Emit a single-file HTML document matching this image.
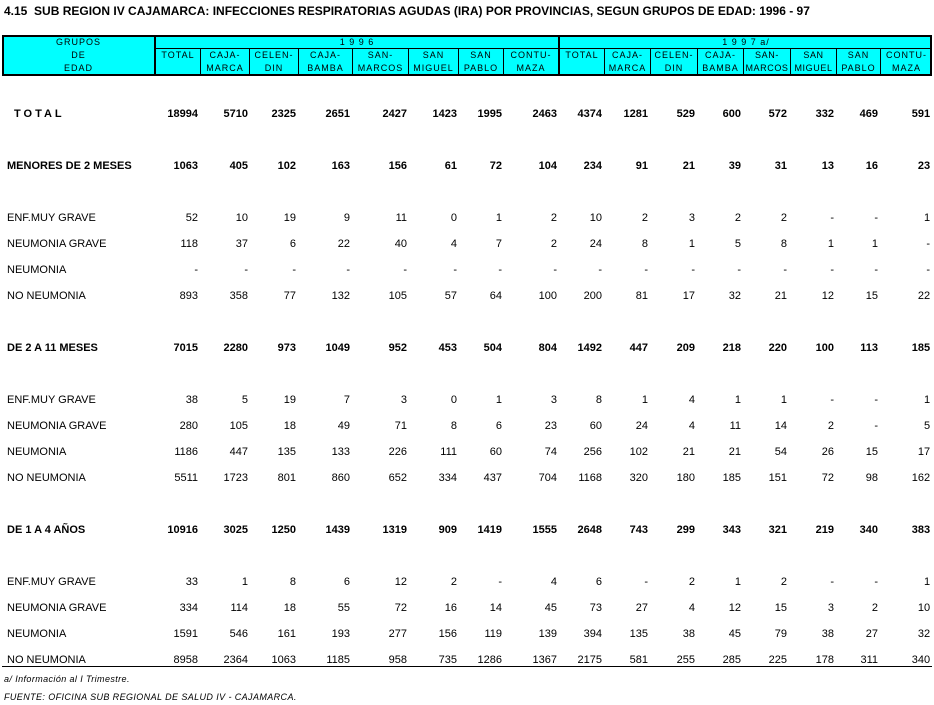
<!DOCTYPE html>
<html><head><meta charset="utf-8"><style>
body{margin:0;width:934px;height:705px;background:#fff;position:relative;font-family:"Liberation Sans",Arial,sans-serif;overflow:hidden}
.t{position:absolute;left:4px;top:4px;font-size:12px;font-weight:bold;white-space:nowrap}
#hb{position:absolute;left:2px;top:35px;width:926px;height:37px;background:#00ffff;border:2px solid #000}
.v{position:absolute;top:48px;height:26px;width:1px;background:#000}
.hl{position:absolute;font-size:9px;letter-spacing:1px;text-align:center;line-height:13px;white-space:nowrap}
table{border-collapse:collapse;table-layout:fixed;position:absolute;left:2px}
#d{top:75px;width:930px}
#d td{font-size:11px;height:26px;padding:0 2px 0 0;text-align:right;white-space:nowrap;line-height:26px}
#d td:first-child{text-align:left;padding-left:5px}
#d tr.b td{font-weight:bold}
.f{position:absolute;left:4px;font-size:9px;font-style:italic;letter-spacing:.4px}
</style></head><body>
<div class="t">4.15&nbsp; SUB REGION IV CAJAMARCA: INFECCIONES RESPIRATORIAS AGUDAS (IRA) POR PROVINCIAS, SEGUN GRUPOS DE EDAD: 1996 - 97</div>
<div id="hb"></div>
<div style="position:absolute;left:154px;top:36px;width:2px;height:38px;background:#000"></div>
<div style="position:absolute;left:558px;top:36px;width:2px;height:38px;background:#000"></div>
<div style="position:absolute;left:155px;top:48px;width:777px;height:1px;background:#000"></div>
<div class="v" style="left:200px"></div><div class="v" style="left:249px"></div><div class="v" style="left:298px"></div><div class="v" style="left:352px"></div><div class="v" style="left:408px"></div><div class="v" style="left:458px"></div><div class="v" style="left:503px"></div>
<div class="v" style="left:604px"></div><div class="v" style="left:650px"></div><div class="v" style="left:697px"></div><div class="v" style="left:743px"></div><div class="v" style="left:790px"></div><div class="v" style="left:836px"></div><div class="v" style="left:880px"></div>
<div class="hl" style="left:2px;width:153px;top:36px">GRUPOS<br>DE<br>EDAD</div>
<div class="hl" style="left:156px;width:402px;top:36px">1 9 9 6</div>
<div class="hl" style="left:560px;width:372px;top:36px">1 9 9 7 a/</div>
<div class="hl" style="left:156px;width:44px;top:49px">TOTAL</div>
<div class="hl" style="left:201px;width:48px;top:49px">CAJA-<br>MARCA</div>
<div class="hl" style="left:250px;width:48px;top:49px">CELEN-<br>DIN</div>
<div class="hl" style="left:299px;width:53px;top:49px">CAJA-<br>BAMBA</div>
<div class="hl" style="left:353px;width:55px;top:49px">SAN-<br>MARCOS</div>
<div class="hl" style="left:409px;width:49px;top:49px">SAN<br>MIGUEL</div>
<div class="hl" style="left:459px;width:44px;top:49px">SAN<br>PABLO</div>
<div class="hl" style="left:504px;width:54px;top:49px">CONTU-<br>MAZA</div>
<div class="hl" style="left:560px;width:44px;top:49px">TOTAL</div>
<div class="hl" style="left:605px;width:45px;top:49px">CAJA-<br>MARCA</div>
<div class="hl" style="left:651px;width:46px;top:49px">CELEN-<br>DIN</div>
<div class="hl" style="left:698px;width:45px;top:49px">CAJA-<br>BAMBA</div>
<div class="hl" style="left:744px;width:46px;top:49px;letter-spacing:.6px">SAN-<br>MARCOS</div>
<div class="hl" style="left:791px;width:45px;top:49px;letter-spacing:.6px">SAN<br>MIGUEL</div>
<div class="hl" style="left:837px;width:43px;top:49px">SAN<br>PABLO</div>
<div class="hl" style="left:881px;width:51px;top:49px">CONTU-<br>MAZA</div>
<table id="d">
<colgroup><col style="width:153px"><col style="width:45px"><col style="width:50px"><col style="width:48px"><col style="width:54px"><col style="width:57px"><col style="width:50px"><col style="width:45px"><col style="width:55px"><col style="width:45px"><col style="width:46px"><col style="width:47px"><col style="width:46px"><col style="width:46px"><col style="width:47px"><col style="width:44px"><col style="width:52px"></colgroup>
<tr><td colspan="17"></td></tr>
<tr class="b"><td style="padding-left:12px;letter-spacing:3px">TOTAL</td><td>18994</td><td>5710</td><td>2325</td><td>2651</td><td>2427</td><td>1423</td><td>1995</td><td>2463</td><td>4374</td><td>1281</td><td>529</td><td>600</td><td>572</td><td>332</td><td>469</td><td>591</td></tr>
<tr><td colspan="17"></td></tr>
<tr class="b"><td>MENORES DE 2 MESES</td><td>1063</td><td>405</td><td>102</td><td>163</td><td>156</td><td>61</td><td>72</td><td>104</td><td>234</td><td>91</td><td>21</td><td>39</td><td>31</td><td>13</td><td>16</td><td>23</td></tr>
<tr><td colspan="17"></td></tr>
<tr><td>ENF.MUY GRAVE</td><td>52</td><td>10</td><td>19</td><td>9</td><td>11</td><td>0</td><td>1</td><td>2</td><td>10</td><td>2</td><td>3</td><td>2</td><td>2</td><td>-</td><td>-</td><td>1</td></tr>
<tr><td>NEUMONIA GRAVE</td><td>118</td><td>37</td><td>6</td><td>22</td><td>40</td><td>4</td><td>7</td><td>2</td><td>24</td><td>8</td><td>1</td><td>5</td><td>8</td><td>1</td><td>1</td><td>-</td></tr>
<tr><td>NEUMONIA</td><td>-</td><td>-</td><td>-</td><td>-</td><td>-</td><td>-</td><td>-</td><td>-</td><td>-</td><td>-</td><td>-</td><td>-</td><td>-</td><td>-</td><td>-</td><td>-</td></tr>
<tr><td>NO NEUMONIA</td><td>893</td><td>358</td><td>77</td><td>132</td><td>105</td><td>57</td><td>64</td><td>100</td><td>200</td><td>81</td><td>17</td><td>32</td><td>21</td><td>12</td><td>15</td><td>22</td></tr>
<tr><td colspan="17"></td></tr>
<tr class="b"><td>DE 2 A 11 MESES</td><td>7015</td><td>2280</td><td>973</td><td>1049</td><td>952</td><td>453</td><td>504</td><td>804</td><td>1492</td><td>447</td><td>209</td><td>218</td><td>220</td><td>100</td><td>113</td><td>185</td></tr>
<tr><td colspan="17"></td></tr>
<tr><td>ENF.MUY GRAVE</td><td>38</td><td>5</td><td>19</td><td>7</td><td>3</td><td>0</td><td>1</td><td>3</td><td>8</td><td>1</td><td>4</td><td>1</td><td>1</td><td>-</td><td>-</td><td>1</td></tr>
<tr><td>NEUMONIA GRAVE</td><td>280</td><td>105</td><td>18</td><td>49</td><td>71</td><td>8</td><td>6</td><td>23</td><td>60</td><td>24</td><td>4</td><td>11</td><td>14</td><td>2</td><td>-</td><td>5</td></tr>
<tr><td>NEUMONIA</td><td>1186</td><td>447</td><td>135</td><td>133</td><td>226</td><td>111</td><td>60</td><td>74</td><td>256</td><td>102</td><td>21</td><td>21</td><td>54</td><td>26</td><td>15</td><td>17</td></tr>
<tr><td>NO NEUMONIA</td><td>5511</td><td>1723</td><td>801</td><td>860</td><td>652</td><td>334</td><td>437</td><td>704</td><td>1168</td><td>320</td><td>180</td><td>185</td><td>151</td><td>72</td><td>98</td><td>162</td></tr>
<tr><td colspan="17"></td></tr>
<tr class="b"><td>DE 1 A 4 AÑOS</td><td>10916</td><td>3025</td><td>1250</td><td>1439</td><td>1319</td><td>909</td><td>1419</td><td>1555</td><td>2648</td><td>743</td><td>299</td><td>343</td><td>321</td><td>219</td><td>340</td><td>383</td></tr>
<tr><td colspan="17"></td></tr>
<tr><td>ENF.MUY GRAVE</td><td>33</td><td>1</td><td>8</td><td>6</td><td>12</td><td>2</td><td>-</td><td>4</td><td>6</td><td>-</td><td>2</td><td>1</td><td>2</td><td>-</td><td>-</td><td>1</td></tr>
<tr><td>NEUMONIA GRAVE</td><td>334</td><td>114</td><td>18</td><td>55</td><td>72</td><td>16</td><td>14</td><td>45</td><td>73</td><td>27</td><td>4</td><td>12</td><td>15</td><td>3</td><td>2</td><td>10</td></tr>
<tr><td>NEUMONIA</td><td>1591</td><td>546</td><td>161</td><td>193</td><td>277</td><td>156</td><td>119</td><td>139</td><td>394</td><td>135</td><td>38</td><td>45</td><td>79</td><td>38</td><td>27</td><td>32</td></tr>
<tr><td>NO NEUMONIA</td><td>8958</td><td>2364</td><td>1063</td><td>1185</td><td>958</td><td>735</td><td>1286</td><td>1367</td><td>2175</td><td>581</td><td>255</td><td>285</td><td>225</td><td>178</td><td>311</td><td>340</td></tr>
</table>
<div style="position:absolute;left:2px;top:666px;width:930px;height:1px;background:#000"></div>
<div class="f" style="top:674px">a/ Información al I Trimestre.</div>
<div class="f" style="top:692px">FUENTE: OFICINA SUB REGIONAL DE SALUD IV - CAJAMARCA.</div>
</body></html>
